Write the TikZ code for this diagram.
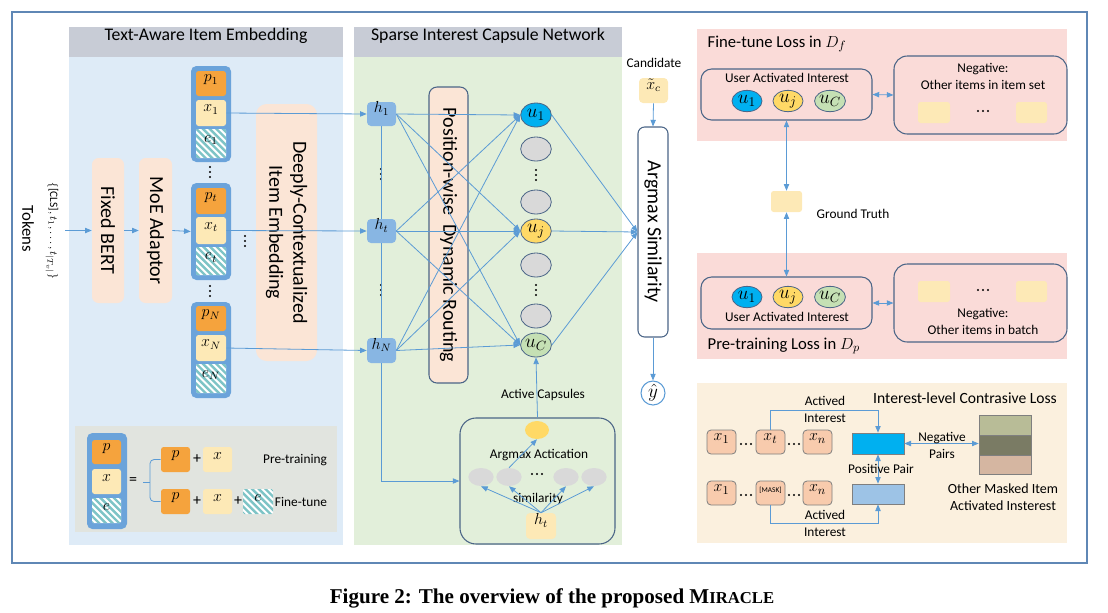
\documentclass[tikz,border=0pt]{standalone}
\usepackage{fontspec}
\setmainfont{Carlito}
\newfontfamily\capfont{Liberation Serif}
\usetikzlibrary{fit,shapes.geometric,arrows.meta}
\definecolor{frameblue}{HTML}{5F87B5}
\definecolor{hdr}{HTML}{C8CCD6}
\definecolor{lblue}{HTML}{DEEBF7}
\definecolor{lgreen}{HTML}{E2EFDA}
\definecolor{peach}{HTML}{FBE5D6}
\definecolor{itemblue}{HTML}{6BA3DA}
\definecolor{porange}{HTML}{F5A33D}
\definecolor{xyel}{HTML}{FDE9B6}
\definecolor{hatchc}{HTML}{7EC4C6}
\definecolor{hblue}{HTML}{88B6E3}
\definecolor{lineblue}{HTML}{5B9BD5}
\definecolor{darkb}{HTML}{4B6587}
\definecolor{ublue}{HTML}{00B0F0}
\definecolor{ugold}{HTML}{FFD966}
\definecolor{ugreen}{HTML}{C5E0B4}
\definecolor{ugray}{HTML}{D9D9D9}
\definecolor{pinkbg}{HTML}{FADBD8}
\definecolor{beige}{HTML}{FBF0DE}
\definecolor{salmon}{HTML}{F8CBAD}
\definecolor{midgray}{HTML}{7F7F7F}
\definecolor{barA}{HTML}{00B0F0}
\definecolor{barB}{HTML}{9DC3E6}
\definecolor{stA}{HTML}{B8BC97}
\definecolor{stB}{HTML}{7A7B64}
\definecolor{stC}{HTML}{D5B6A1}
\definecolor{leggray}{HTML}{E1E4DF}
\newcommand\B[7]{\node[#1, fit={(#3,#4) (#5,#6)}, inner sep=0pt] (#2) {#7};}
\newcommand\vd[2]{\fill[black] (#1,#2-5) circle (0.8pt) (#1,#2) circle (0.8pt) (#1,#2+5) circle (0.8pt);}
\newcommand\hd[2]{\fill[black] (#1-5,#2) circle (0.8pt) (#1,#2) circle (0.8pt) (#1+5,#2) circle (0.8pt);}
\begin{document}
\begin{tikzpicture}[x=0.75pt,y=-0.75pt,
  f85/.style={font=\fontsize{8.5pt}{10pt}\selectfont},
  f10/.style={font=\fontsize{10pt}{12.75pt}\selectfont},
  f105/.style={font=\fontsize{10.5pt}{12.75pt}\selectfont},
  f11/.style={font=\fontsize{11.5pt}{13pt}\selectfont},
  f12/.style={font=\fontsize{12pt}{14pt}\selectfont},
  f117/.style={font=\fontsize{11.7pt}{14pt}\selectfont},
  f125/.style={font=\fontsize{12.5pt}{15pt}\selectfont},
  fhead/.style={font=\fontsize{13.3pt}{16pt}\selectfont},
  f15/.style={font=\fontsize{15pt}{18pt}\selectfont},
  conn/.style={draw=lineblue, line width=0.6pt},
  arr/.style={conn, -{Triangle[length=5pt,width=4pt]}},
  darr/.style={conn, {Triangle[length=5pt,width=4pt]}-{Triangle[length=5pt,width=4pt]}},
  peachbox/.style={fill=peach, rounded corners=5pt},
  itembox/.style={fill=itemblue, rounded corners=4pt},
  pbox/.style={fill=porange, rounded corners=2pt, f12},
  xbox/.style={fill=xyel, rounded corners=2pt, f12},
  hatch/.style={fill=white, rounded corners=1pt, f12, path picture={
     \foreach \k in {-55,-50,...,10}{\draw[hatchc, line width=1.8pt]
       ([xshift=\k pt, yshift=30pt]path picture bounding box.center) -- ++(60pt,-60pt);}}},
  hbox/.style={fill=hblue, rounded corners=3pt, f12},
  caps/.style={ellipse, draw=darkb, line width=0.6pt, minimum width=23pt, minimum height=18pt, inner sep=0pt, font=\fontsize{14pt}{16pt}\selectfont},
  capsr/.style={ellipse, draw=darkb, line width=0.6pt, minimum width=22.5pt, minimum height=16pt, inner sep=0pt, font=\fontsize{14pt}{16pt}\selectfont},
  simell/.style={ellipse, fill=ugray, minimum width=19pt, minimum height=13.5pt, inner sep=0pt},
  rbox/.style={draw=darkb, line width=0.8pt},
  ybox/.style={fill=xyel, rounded corners=2pt},
  sbox/.style={fill=salmon, draw=midgray, line width=0.6pt, rounded corners=3pt, font=\fontsize{12.5pt}{14pt}\selectfont},
]
\useasboundingbox (0,0) rectangle (1108,612);
% frame
\B{draw=frameblue, line width=1.5pt}{frame}{12}{12}{1087}{563}{}
% panels
\B{fill=lblue}{lbody}{69}{57}{343}{545}{}
\B{fill=hdr, fhead}{lhdr}{69}{27}{343}{57}{Text-Aware Item Embedding}
\B{fill=lgreen}{mbody}{354}{57}{622}{545}{}
\B{fill=hdr, fhead}{mhdr}{354}{27}{622}{57}{Sparse Interest Capsule Network}
% tokens
\node[f125, rotate=-90] (tokens) at (28,229) {Tokens};
\node[f85, rotate=-90] (tokset) at (52,231) {$\{$[CLS]$,t_1,\ldots,t_{|T_v|}\}$};
\coordinate (tk) at (65,230.5);
\B{peachbox}{bert}{92}{158}{124}{303}{}
\node[f15, rotate=-90] (bertT) at (bert) {Fixed BERT};
\B{peachbox}{moe}{139}{158}{172}{303}{}
\node[f15, rotate=-90] (moeT) at (moe) {MoE Adaptor};
% item containers
\B{itembox}{c1}{191}{66}{231}{162}{}
\B{pbox}{p1}{196}{71}{226}{96}{$p_1$}
\B{xbox}{x1}{196}{100}{226}{126}{$x_1$}
\B{hatch}{e1}{196}{129}{226}{158}{$e_1$}
\B{itembox}{ct}{191}{183}{231}{280}{}
\B{pbox}{pt}{196}{188}{226}{214}{$p_t$}
\B{xbox}{xt}{196}{217}{226}{244}{$x_t$}
\B{hatch}{et}{196}{247}{226}{275}{$e_t$}
\B{itembox}{cN}{191}{302}{231}{398}{}
\B{pbox}{pN}{196}{306}{226}{331}{$p_N$}
\B{xbox}{xN}{196}{335}{226}{361}{$x_N$}
\B{hatch}{eN}{196}{364}{226}{393}{$e_N$}
\vd{210}{172}
\vd{210}{291}
\vd{245}{241}
% deeply
\B{peachbox, rounded corners=8pt}{deep}{256}{104}{317}{361}{}
\node[f15, rotate=-90, align=center] (deepT) at (deep) {Deeply-Contextualized\\Item Embedding};
% legend
\B{fill=leggray}{leg}{75}{426}{337}{532}{}
\B{itembox}{lc}{87}{433}{127}{529}{}
\B{pbox}{lp}{92}{440}{121}{464}{$p$}
\B{xbox}{lx}{92}{469}{121}{494}{$x$}
\B{hatch}{le}{92}{498}{121}{523}{$e$}
\node[f12] (eq) at (133,481) {=};
\B{pbox}{lp1}{161}{447}{190}{472}{$p$}
\node[f12] (pl1) at (197,459) {+};
\B{xbox}{lx1}{203}{447}{232}{472}{$x$}
\node[f10] (ptxt) at (295,460) {Pre-training};
\B{pbox}{lp2}{161}{489}{190}{514}{$p$}
\node[f12] (pl2) at (197,501) {+};
\B{xbox}{lx2}{203}{489}{232}{514}{$x$}
\node[f12] (pl3) at (238,501) {+};
\B{hatch}{le2}{243}{489}{273}{514}{$e$}
\node[f10] (ftxt) at (301,502) {Fine-tune};
\coordinate (brc) at (143,482);
\draw[conn, rounded corners=3pt] (lp1.west) -| (150,482) |- (lp2.west);
\draw[conn] (brc) -- (150,482);
% h nodes
\B{hbox}{h1}{367}{102}{396}{126}{$h_1$}
\B{hbox}{ht}{367}{219}{396}{243}{$h_t$}
\B{hbox}{hN}{367}{338}{396}{363}{$h_N$}
\vd{381}{174}
\vd{381}{290}
% position-wise
\B{fill=peach, rbox, rounded corners=6pt}{pos}{429}{87}{468}{383}{}
\node[f15, rotate=-90] (posT) at (pos) {Position-wise\ \ Dynamic Routing};
% capsules
\node[caps, fill=ublue] (u1) at (536,115) {$u_1$};
\node[caps, fill=ugray] (g1) at (536,149) {};
\node[caps, fill=ugray] (g2) at (536,202) {};
\node[caps, fill=ugold] (uj) at (536,231) {$u_j$};
\node[caps, fill=ugray] (g3) at (536,265) {};
\node[caps, fill=ugray] (g4) at (536,316) {};
\node[caps, fill=ugreen] (uC) at (536,345) {$u_C$};
\vd{536}{175}
\vd{536}{290}
% argmax
\B{fill=white, rbox, rounded corners=5pt}{argmax}{638}{127}{668}{337}{}
\node[f15, rotate=-90] (argT) at (argmax) {Argmax Similarity};
\node[f10] (cand) at (654,63) {Candidate};
\B{fill=xyel, rounded corners=3pt, f11}{xc}{639}{78}{668}{103}{$\tilde{x}_c$}
\node[circle, draw=lineblue, fill=white, line width=0.8pt, minimum size=18pt, inner sep=0pt, font=\fontsize{14pt}{16pt}\selectfont] (yhat) at (653,393) {$\hat{y}$};
% activation box
\node[f10] (actT) at (543,395) {Active Capsules};
\B{rbox, rounded corners=12pt}{act}{460}{418}{615}{544}{}
\node[ellipse, fill=ugold, minimum width=18pt, minimum height=13.5pt, inner sep=0pt] (ya) at (537,430) {};
\node[f10] (amT) at (539,455) {Argmax Actication};
\node[simell] (s1) at (481,477) {};
\node[simell] (s2) at (509,477) {};
\node[simell] (s3) at (566,477) {};
\node[simell] (s4) at (594,477) {};
\hd{537}{474}
\node[f10] (simT) at (538,499) {similarity};
\B{fill=xyel, rounded corners=3pt, f12}{ht2}{526}{513}{556}{539}{$h_t$}
% connectors left/middle
\draw[arr] (tk) -- (bert.west);
\draw[arr] (bert.east) -- (moe.west);
\draw[arr] (moe.east) -- (ct.west);
\draw[arr] (x1.east) -- (h1.west);
\draw[arr] (xt.east) -- (ht.west);
\draw[arr] (xN.east) -- (hN.west);
\draw[conn] (h1.south) -- (ht.north);
\draw[conn] (ht.south) -- (hN.north);
\draw[arr] (hN.south) |- (act.west);
\foreach \h in {h1,ht,hN}{\foreach \u in {u1,uj,uC}{\draw[arr] (\h.east) -- (\u.west);}}
\foreach \u in {u1,uj,uC}{\draw[arr] (\u.east) -- (argmax.west);}
\draw[arr] (xc.south) -- (argmax.north);
\draw[arr] (argmax.south) -- (yhat.north);
\draw[arr] (act.north) -- (uC.south);
\foreach \s in {s1,s2,s3,s4}{\draw[arr] (ht2.north) -- (\s.south);}
\draw[arr] (s2.north) -- (ya.south);
% right: fine-tune
\B{fill=pinkbg}{ftp}{697}{29}{1067}{141}{}
\node[f125, anchor=west] (ftT) at (703,44) {Fine-tune Loss in $D_f$};
\B{rbox, rounded corners=8pt}{uai1}{701}{69}{872}{120}{}
\node[f10] (uai1T) at (787,78) {User Activated Interest};
\node[capsr, fill=ublue] (a1) at (747,101) {$u_1$};
\node[capsr, fill=ugold] (aj) at (788,101) {$u_j$};
\node[capsr, fill=ugreen] (aC) at (830,101) {$u_C$};
\B{rbox, rounded corners=10pt}{neg1}{894}{56}{1067}{134}{}
\node[f10, align=center] (neg1T) at (983,76.5) {Negative:\\Other items in item set};
\B{ybox}{n1a}{918}{102}{950}{123}{}
\B{ybox}{n1b}{1016}{102}{1047}{123}{}
\hd{983}{111}
% ground truth
\B{ybox}{gt}{771}{191}{802}{212}{}
\node[f10, anchor=west] (gtT) at (812,214) {Ground Truth};
% pre-training
\B{fill=pinkbg}{ptp}{697}{253}{1067}{359}{}
\node[f125, anchor=west] (ptT) at (703,346) {Pre-training Loss in $D_p$};
\B{rbox, rounded corners=8pt}{uai2}{701}{277}{872}{329}{}
\node[capsr, fill=ublue] (b1) at (747,297) {$u_1$};
\node[capsr, fill=ugold] (bj) at (788,297) {$u_j$};
\node[capsr, fill=ugreen] (bC) at (830,297) {$u_C$};
\node[f10] (uai2T) at (787,317) {User Activated Interest};
\B{rbox, rounded corners=10pt}{neg2}{894}{264}{1067}{342}{}
\B{ybox}{n2a}{918}{281}{950}{302}{}
\B{ybox}{n2b}{1016}{281}{1047}{302}{}
\hd{983}{290}
\node[f10, align=center] (neg2T) at (983,321.5) {Negative:\\Other items in batch};
\draw[darr] (uai1.east) -- (neg1.west);
\draw[darr] (uai1.south) -- (gt.north);
\draw[darr] (gt.south) -- (uai2.north);
\draw[darr] (uai2.east) -- (neg2.west);
% contrastive
\B{fill=beige}{clp}{697}{383}{1067}{543}{}
\node[f117] (clT) at (965,398) {Interest-level Contrasive Loss};
\B{sbox}{r1a}{707}{430}{736}{454}{$x_1$}
\B{sbox}{r1b}{756}{430}{785}{454}{$x_t$}
\B{sbox}{r1c}{803}{430}{832}{454}{$x_n$}
\B{sbox}{r2a}{707}{481}{736}{505}{$x_1$}
\B{sbox}{r2b}{756}{481}{785}{505}{\fontsize{5.5pt}{6pt}\selectfont [MASK]}
\B{sbox}{r2c}{803}{481}{832}{505}{$x_n$}
\hd{746}{444}
\hd{794}{444}
\hd{746}{495}
\hd{794}{495}
\B{fill=barA, draw=midgray, line width=0.5pt}{bar1}{852}{433}{904}{454}{}
\B{fill=barB, draw=midgray, line width=0.5pt}{bar2}{852}{484}{904}{504}{}
\B{fill=stA, draw=midgray, line width=0.5pt}{stt}{979}{415}{1031}{435}{}
\B{fill=stB, draw=midgray, line width=0.5pt}{stm}{979}{435}{1031}{455}{}
\B{fill=stC, draw=midgray, line width=0.5pt}{stb}{979}{455}{1031}{474}{}
\draw[arr] (r1b.north) -- ++(0,-19) -| (bar1.north);
\node[f10, align=center] (ai1) at (825,409.5) {Actived\\Interest};
\draw[arr] (r2b.south) -- ++(0,18) -| (bar2.south);
\node[f10, align=center] (ai2) at (825,523) {Actived\\Interest};
\draw[darr] (bar1.south) -- (bar2.north);
\node[f10] (pp) at (881,469) {Positive Pair};
\draw[darr] (bar1.east) -- (bar1.east -| stm.west);
\node[f10, align=center] (np) at (942,445.5) {Negative\\Pairs};
\node[f105, align=center] (om) at (1003,497.5) {Other Masked Item\\Activated Insterest};
% caption
\node[font={\capfont\bfseries\fontsize{15.8pt}{18pt}\selectfont}] (cap) at (552,598) {Figure 2: The overview of the proposed M{\fontsize{12.5pt}{14pt}\selectfont IRACLE}};
\end{tikzpicture}
\end{document}
